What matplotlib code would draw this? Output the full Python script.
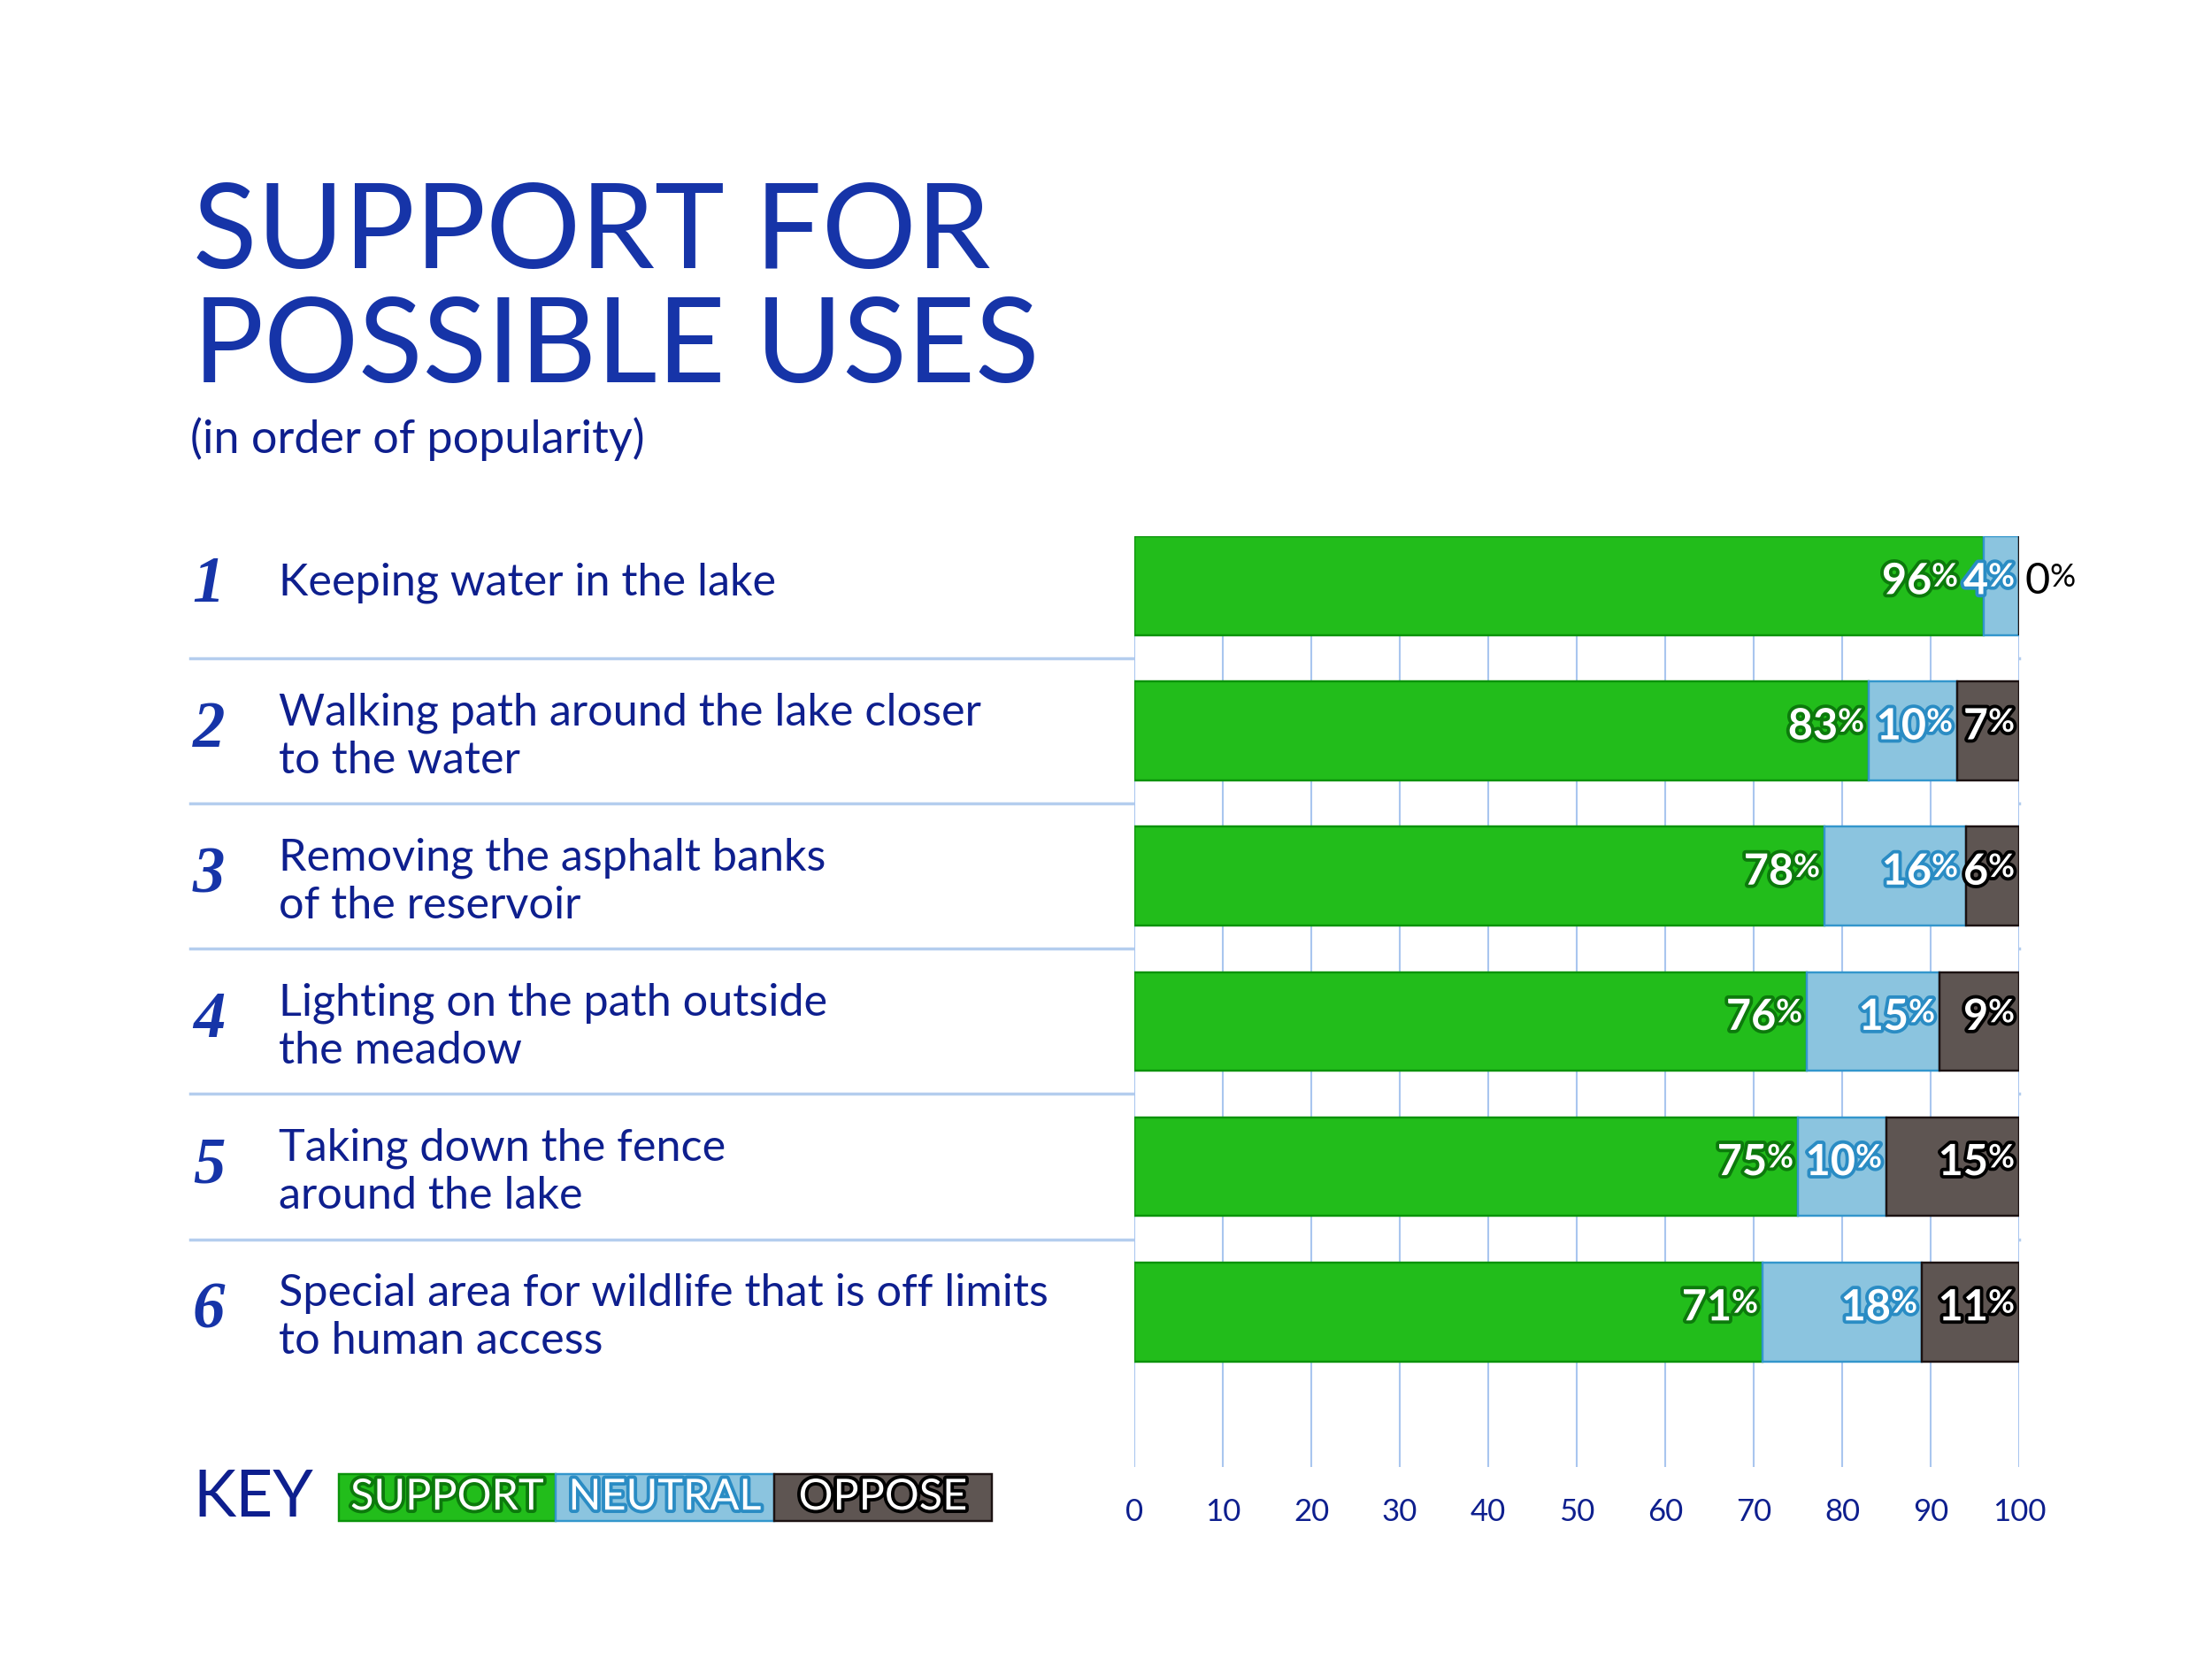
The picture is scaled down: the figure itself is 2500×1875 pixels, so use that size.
import matplotlib
matplotlib.use("Agg")
import matplotlib.pyplot as plt
import matplotlib.patheffects as pe
import matplotlib.transforms as mtransforms
from matplotlib.patches import Rectangle
from matplotlib.lines import Line2D
import numpy as np

plt.rcParams['font.family'] = ['Lato', 'DejaVu Sans']

# data
ranks = ["1", "2", "3", "4", "5", "6"]
uses = ["Keeping water in the lake",
        "Walking path around the lake closer\nto the water",
        "Removing the asphalt banks\nof the reservoir",
        "Lighting on the path outside\nthe meadow",
        "Taking down the fence\naround the lake",
        "Special area for wildlife that is off limits\nto human access"]
support = [96, 83, 78, 76, 75, 71]
neutral = [4, 10, 16, 15, 10, 18]
oppose = [0, 7, 6, 9, 15, 11]
ticks = [0, 10, 20, 30, 40, 50, 60, 70, 80, 90, 100]
key_labels = ["SUPPORT", "NEUTRAL", "OPPOSE"]

title_col = "#1634a8"
label_col = "#0e1f8e"
fills = ["#22bd1b", "#8bc4df", "#5e5552"]
edges = ["#0b930b", "#3396cc", "#1c1212"]
glows = ["#0c7a0c", "#2a8cc4", "#000000"]
grid_col = "#a9c6ef"

fig = plt.figure(figsize=(10, 7.5), dpi=250)
ax = fig.add_axes([0.5128, 0.1157, 0.4, 0.5611])
renderer = fig.canvas.get_renderer()

y = np.arange(len(uses))
series = [support, neutral, oppose]
left = np.zeros(len(uses))
starts = []
for vals, fc, ec in zip(series, fills, edges):
    vals = np.array(vals, dtype=float)
    ax.barh(y, vals, left=left, height=0.68, color=fc, edgecolor=ec,
            linewidth=0.7, zorder=3)
    starts.append(left.copy())
    left = left + vals

ax.set_xlim(0, 100)
ax.set_ylim(6.068, -0.34)
ax.set_xticks(ticks)
ax.set_xticklabels([str(t) for t in ticks])
ax.set_yticks([])
ax.tick_params(axis='x', length=0, pad=10, labelsize=10, labelcolor=label_col)
for s in ax.spines.values():
    s.set_visible(False)
ax.grid(axis='x', color=grid_col, linewidth=0.6, zorder=1)
ax.set_axisbelow(True)

# percent labels: number plus a small raised % sign
num_fs, pct_fs = 14, 10.5
probe = fig.text(0, 0, "%", fontsize=pct_fs, fontweight='bold')
pct_w = probe.get_window_extent(renderer).width * 72 / fig.dpi
probe.remove()
px_per_unit = ax.transData.transform((1, 0))[0] - ax.transData.transform((0, 0))[0]


def pct_label(x, yc, v, color, glow, align, weight='bold'):
    eff = [pe.withStroke(linewidth=2.2, foreground=glow)] if glow else None
    off = -pct_w if align == 'right' else 0
    num = ax.annotate(str(v), xy=(x, yc), xytext=(off, 0), textcoords='offset points',
                      ha=align, va='center', fontsize=num_fs, fontweight=weight,
                      color=color, zorder=5, path_effects=eff, annotation_clip=False)
    ax.annotate("%", xy=(1, 0.97), xycoords=num, ha='left', va='top',
                fontsize=pct_fs, fontweight=weight, color=color, zorder=5,
                path_effects=eff, annotation_clip=False)
    w = num.get_window_extent(renderer).width / px_per_unit
    return w + pct_w * fig.dpi / 72 / px_per_unit


for i in y:
    limit = 100.0
    for k in (2, 1, 0):
        v = series[k][i]
        end = starts[k][i] + v
        if v == 0:
            pct_label(end + 0.6, i - 0.03, v, 'black', None, 'left', 'normal')
            continue
        xr = min(end - 0.5, limit)
        w = pct_label(xr, i - 0.03, v, 'white', glows[k], 'right')
        limit = xr - w - 0.6

# separators between rows, from text column to 100
blend = mtransforms.blended_transform_factory(fig.transFigure, ax.transData)
x_end = ax.transData.transform((100, 0))[0]
x_end_fig = fig.transFigure.inverted().transform((x_end, 0))[0]
for yi in y[:-1]:
    fig.add_artist(Line2D([0.086, x_end_fig], [yi + 0.5, yi + 0.5], transform=blend,
                          color="#b4cdee", linewidth=1.0, zorder=0))

# row labels
for yi, r, u in zip(y, ranks, uses):
    fig.text(0.0944, yi, r, transform=blend, ha='center', va='center',
             family='Liberation Serif', style='italic', fontweight='bold',
             fontsize=21, color=title_col)
    dy = 0.04 if "\n" in u else -0.02
    fig.text(0.126, yi + dy, u, transform=blend, ha='left', va='center',
             fontsize=14.5, color=label_col, linespacing=1.22)

# title
fig.text(0.0872, 0.8384, "SUPPORT FOR", fontsize=38.5, color=title_col, va='baseline')
fig.text(0.0872, 0.7696, "POSSIBLE USES", fontsize=38.5, color=title_col, va='baseline')
fig.text(0.086, 0.7355, "(in order of popularity)", fontsize=15, color=label_col,
         va='center')

# key
fig.text(0.0872, 0.097, "KEY", fontsize=21, color=label_col, va='center')
kx = [0.1532, 0.2512, 0.35, 0.4484]
for i, lab in enumerate(key_labels):
    fig.add_artist(Rectangle((kx[i], 0.0832), kx[i + 1] - kx[i], 0.0283,
                             transform=fig.transFigure, facecolor=fills[i],
                             edgecolor=edges[i], linewidth=0.7))
    fig.text((kx[i] + kx[i + 1]) / 2, 0.0975, lab, ha='center', va='center',
             fontsize=14, color='white',
             path_effects=[pe.withStroke(linewidth=2.2, foreground=glows[i])])

fig.savefig("out.png", dpi=250, facecolor='white')
